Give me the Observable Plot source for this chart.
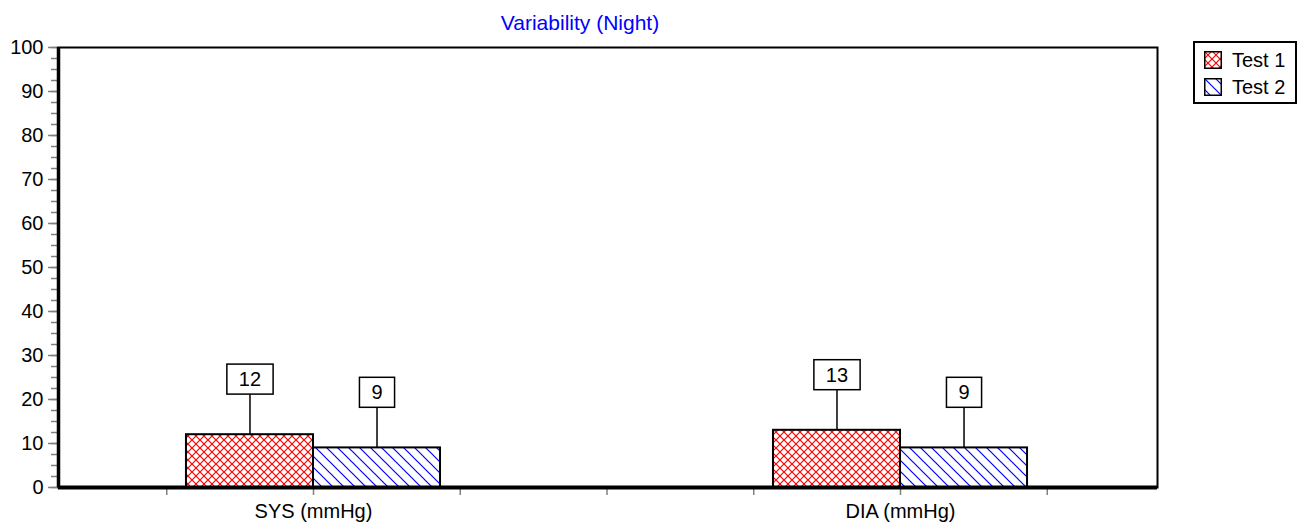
<!DOCTYPE html>
<html>
<head>
<meta charset="utf-8">
<script src="https://cdn.jsdelivr.net/npm/d3@7"></script>
<script src="https://cdn.jsdelivr.net/npm/@observablehq/plot@0.6"></script>
<style>
  html, body { margin: 0; padding: 0; background: #fff; }
  body { font-family: "Liberation Sans", Arial, sans-serif; }
  #wrap { position: relative; width: 1308px; height: 525px; overflow: hidden; }
  #title { position: absolute; left: 0; top: 11px; width: 1160px; text-align: center;
           font-size: 21px; line-height: 24px; color: #0000ff; }
  #legend { position: absolute; left: 1193px; top: 41px; width: 104px; height: 63px;
            box-sizing: border-box; border: 2px solid #000; background: #fff; }
  .item { position: absolute; left: 9px; height: 20px; display: flex; align-items: center; font-size: 20px; color: #000; }
  .item svg { margin-right: 10px; }
</style>
</head>
<body>
<svg width="0" height="0" style="position:absolute">
  <defs>
    <pattern id="hatchRed" patternUnits="userSpaceOnUse" width="8" height="8">
      <path d="M0,0 L8,8 M8,0 L0,8" stroke="#ff0000" stroke-width="1.2" fill="none"/>
    </pattern>
    <pattern id="hatchBlue" patternUnits="userSpaceOnUse" width="11" height="11">
      <path d="M-1,-1 L12,12 M-1,10 L1,12 M10,-1 L12,1" stroke="#0000ff" stroke-width="1.2" fill="none"/>
    </pattern>
  </defs>
</svg>
<div id="wrap">
  <div id="chart"></div>
  <div id="title"></div>
  <div id="legend"></div>
</div>
<script>
// ---- data ----
const title = "Variability (Night)";
const categories = ["SYS (mmHg)", "DIA (mmHg)"];
const seriesNames = ["Test 1", "Test 2"];
const test1 = [12, 13];
const test2 = [9, 9];
const yTicks = [0, 10, 20, 30, 40, 50, 60, 70, 80, 90, 100];

// ---- layout ----
const W = 1308, H = 525;
const mt = 47, mb = 38, ml = 58, mr = 151;
const patterns = ["url(#hatchRed)", "url(#hatchBlue)"];
const barW = 0.2164;                 // bar width in category units
const xDomain = [-0.4344, 1.4378];
const yPerPx = 100 / (H - mt - mb);
const leader = 40 * yPerPx;          // label box sits 40px above bar

const rows = [];
[test1, test2].forEach((vals, s) => {
  vals.forEach((v, i) => {
    rows.push({
      i, s, value: v, series: seriesNames[s],
      x1: s === 0 ? i - barW : i,
      x2: s === 0 ? i : i + barW,
      xc: s === 0 ? i - barW / 2 : i + barW / 2
    });
  });
});

const minorY = d3.range(0, 100.01, 2.5);
const xTicks = d3.range(-0.25, 1.26, 0.25);

const plot = Plot.plot({
  width: W, height: H,
  marginTop: mt, marginBottom: mb, marginLeft: ml, marginRight: mr,
  style: { fontFamily: '"Liberation Sans", Arial, sans-serif', background: "#fff", overflow: "visible" },
  x: { type: "linear", domain: xDomain, axis: null },
  y: { domain: [0, 100], axis: null },
  marks: [
    Plot.axisY({ ticks: minorY, tickSize: 7, tickFormat: () => "", stroke: "#808080", strokeWidth: 1.5, label: null }),
    Plot.axisY({ ticks: yTicks, tickSize: 10, tickPadding: 5, fontSize: 20, stroke: "#808080", strokeWidth: 1.5, fill: "#000", label: null }),
    Plot.axisX({ ticks: xTicks, tickSize: 8, tickPadding: 8, fontSize: 20, stroke: "#808080", strokeWidth: 1.5, fill: "#000", label: null,
      tickFormat: d => Number.isInteger(d) ? categories[d] : "" }),
    Plot.rect(rows, { x1: "x1", x2: "x2", y1: 0, y2: "value", fill: d => patterns[d.s], stroke: "#000", strokeWidth: 2 }),
    Plot.ruleX(rows, { x: "xc", y1: "value", y2: d => d.value + leader, stroke: "#000", strokeWidth: 1.5 }),
    Plot.text(rows, { x: "xc", y: d => d.value + leader, dy: -15, text: d => String(d.value), fontSize: 20, fill: "#000", className: "vlabel" }),
    Plot.frame({ stroke: "#000", strokeWidth: 2 }),
    Plot.ruleX([xDomain[0]], { stroke: "#000", strokeWidth: 3.5 }),
    Plot.ruleY([0], { stroke: "#000", strokeWidth: 4 })
  ]
});
document.getElementById("chart").appendChild(plot);

// boxes around value labels
let labels = plot.querySelectorAll("g.vlabel text");
if (!labels.length) labels = plot.querySelectorAll('g[aria-label="text"] text');
labels.forEach(t => {
  const b = t.getBBox();
  const cy = b.y + b.height / 2;
  const r = document.createElementNS("http://www.w3.org/2000/svg", "rect");
  r.setAttribute("x", b.x - 12);
  r.setAttribute("width", b.width + 24);
  r.setAttribute("y", cy - 15);
  r.setAttribute("height", 30);
  r.setAttribute("fill", "#fff");
  r.setAttribute("stroke", "#000");
  r.setAttribute("stroke-width", 1.5);
  const tr = t.getAttribute("transform");
  if (tr) r.setAttribute("transform", tr);
  t.parentNode.insertBefore(r, t);
});

// title
document.getElementById("title").textContent = title;

// legend
const legend = document.getElementById("legend");
seriesNames.forEach((name, s) => {
  const it = document.createElement("div");
  it.className = "item";
  it.style.top = (7 + s * 27) + "px";
  it.innerHTML = `<svg width="18" height="18"><rect x="0.75" y="0.75" width="16.5" height="16.5" fill="${patterns[s]}" stroke="#000" stroke-width="1.5"/></svg><span>${name}</span>`;
  legend.appendChild(it);
});
</script>
</body>
</html>
